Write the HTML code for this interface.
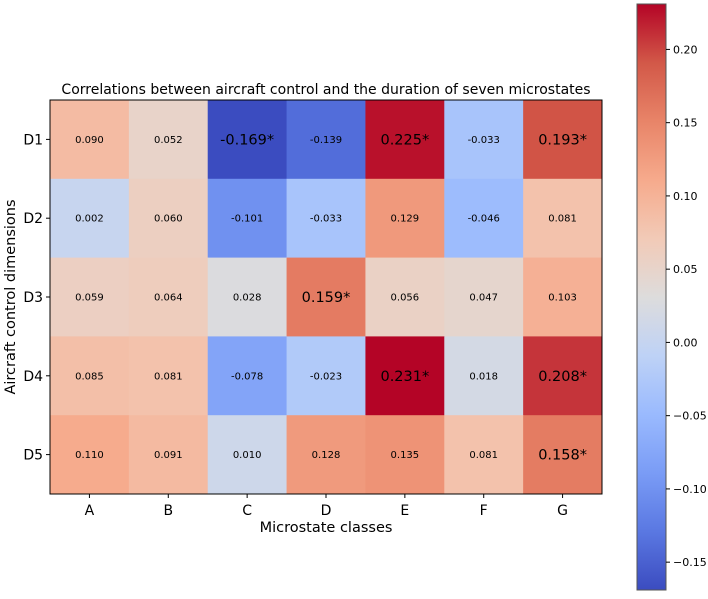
<!DOCTYPE html>
<html><head><meta charset="utf-8"><style>
body{margin:0;background:#fff;font-family:"Liberation Sans","DejaVu Sans",sans-serif;}
svg text{font-family:"DejaVu Sans","Liberation Sans",sans-serif;}
</style></head><body>
<svg id="chart" width="708" height="594"></svg>
<script>
const rows = ["D1","D2","D3","D4","D5"];
const cols = ["A","B","C","D","E","F","G"];
const values = [
 [0.090,0.052,-0.169,-0.139,0.225,-0.033,0.193],
 [0.002,0.060,-0.101,-0.033,0.129,-0.046,0.081],
 [0.059,0.064,0.028,0.159,0.056,0.047,0.103],
 [0.085,0.081,-0.078,-0.023,0.231,0.018,0.208],
 [0.110,0.091,0.010,0.128,0.135,0.081,0.158]
];
const significant = [
 [0,0,1,0,1,0,1],
 [0,0,0,0,0,0,0],
 [0,0,0,1,0,0,0],
 [0,0,0,0,1,0,1],
 [0,0,0,0,0,0,1]
];
const cbTicks = [-0.15,-0.10,-0.05,0.00,0.05,0.10,0.15,0.20];

const NS="http://www.w3.org/2000/svg";
const svg=document.getElementById('chart');
function mk(t,a,txt){const e=document.createElementNS(NS,t);for(const k in a)e.setAttribute(k,a[k]);if(txt!==undefined)e.textContent=txt;svg.appendChild(e);return e;}
const stops=[[0,59,76,192],[0.1,90,120,226],[0.2,122,156,246],[0.3,154,186,254],[0.4,190,210,246],[0.5,221,220,220],[0.6,242,202,183],[0.7,246,170,140],[0.8,232,132,104],[0.9,210,88,72],[1,180,4,38]];
function cmap(t){t=Math.max(0,Math.min(1,t));for(let i=1;i<stops.length;i++){if(t<=stops[i][0]){const a=stops[i-1],b=stops[i],f=(t-a[0])/(b[0]-a[0]);return `rgb(${[1,2,3].map(j=>Math.round(a[j]+(b[j]-a[j])*f)).join(',')})`;}}return 'rgb(180,4,38)';}
let vmin=Infinity,vmax=-Infinity;values.forEach(r=>r.forEach(v=>{vmin=Math.min(vmin,v);vmax=Math.max(vmax,v);}));
const X0=50,Y0=100,W=552,H=394,cw=W/cols.length,ch=H/rows.length;
const xs=i=>X0+i*cw, ys=j=>Y0+j*ch;
values.forEach((r,j)=>r.forEach((v,i)=>{
 const t=(v-vmin)/(vmax-vmin);
 const c=mk('rect',{x:xs(i),y:ys(j),width:cw+0.5,height:ch+0.5,fill:cmap(t)});
 
 
 const s=significant[j][i];
 const tx=mk('text',{x:xs(i)+cw/2,y:ys(j)+ch/2+(s?5:3.5),'text-anchor':'middle','font-size':s?14.5:10,fill:'#000'},v.toFixed(3)+(s?'*':''));
 
 
}));
mk('rect',{x:X0,y:Y0,width:W,height:H,fill:'none',stroke:'#000','stroke-width':1,});
cols.forEach((c,i)=>{mk('line',{x1:xs(i)+cw/2,x2:xs(i)+cw/2,y1:Y0+H,y2:Y0+H+4,stroke:'#000'});
 const t=mk('text',{x:xs(i)+cw/2,y:Y0+H+21,'text-anchor':'middle','font-size':14},c);
 });
rows.forEach((r,j)=>{mk('line',{x1:X0-4,x2:X0,y1:ys(j)+ch/2,y2:ys(j)+ch/2,stroke:'#000'});
 const t=mk('text',{x:X0-7,y:ys(j)+ch/2+5,'text-anchor':'end','font-size':14},r);
 });
mk('text',{x:X0+W/2,y:Y0+H+38,'text-anchor':'middle','font-size':14.5,},'Microstate classes');
mk('text',{x:0,y:0,'text-anchor':'middle','font-size':14.5,transform:`translate(15,${Y0+H/2}) rotate(-90)`,},'Aircraft control dimensions');
mk('text',{x:X0+W/2,y:Y0-6,'text-anchor':'middle','font-size':14,},'Correlations between aircraft control and the duration of seven microstates');
// colorbar
const CX=637,CW=29,CT=4,CB=590;
const cy=v=>CB-(v-vmin)/(vmax-vmin)*(CB-CT);
const defs=mk('defs',{});const g=document.createElementNS(NS,'linearGradient');g.setAttribute('id','cg');g.setAttribute('x1','0');g.setAttribute('y1','1');g.setAttribute('x2','0');g.setAttribute('y2','0');defs.appendChild(g);
for(let k=0;k<=20;k++){const s=document.createElementNS(NS,'stop');s.setAttribute('offset',k/20);s.setAttribute('stop-color',cmap(k/20));g.appendChild(s);}
mk('rect',{x:CX,y:CT,width:CW,height:CB-CT,fill:'url(#cg)',stroke:'#555','stroke-width':1,});
cbTicks.forEach(v=>{const y=cy(v);mk('line',{x1:CX+CW,x2:CX+CW+4,y1:y,y2:y,stroke:'#000'});
 const t=mk('text',{x:CX+CW+7,y:y+4,'font-size':11},(v<0?'\u2212':'')+Math.abs(v).toFixed(2));
 });
</script>
</body></html>
